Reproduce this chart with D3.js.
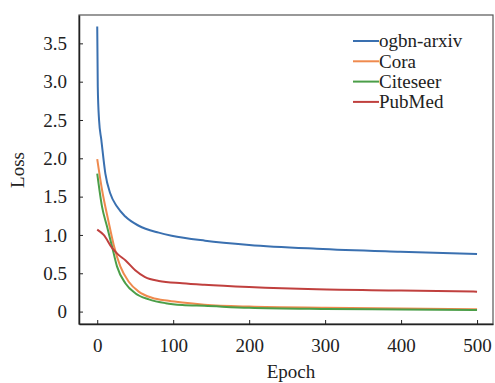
<!DOCTYPE html>
<html><head><meta charset="utf-8">
<script src="https://cdn.jsdelivr.net/npm/d3@7"></script>
<style>body{margin:0;background:#fff}svg text{font-family:"Liberation Serif","Times New Roman",serif;fill:#222}</style>
</head><body><svg id="c" width="495" height="383"></svg>
<script>
const seriesNames = ["ogbn-arxiv","Cora","Citeseer","PubMed"];
const seriesColors = ["#3a70b0","#ef8a4e","#4b9e48","#c0403e"];
const arxivEpochs = [0,0.7,2.4,5.4,10.7,17.2,26,37,54.6,81,98,142,200,289,399,500];
const arxivLoss   = [3.72,2.94,2.50,2.24,1.80,1.54,1.37,1.24,1.12,1.03,0.99,0.925,0.87,0.82,0.78,0.75];
const coraEpochs = [0,6.3,15,21.7,30.4,41.5,54.6,72,94,112,141,200,300,400,500];
const coraLoss   = [1.99,1.59,1.17,0.87,0.59,0.39,0.26,0.18,0.14,0.117,0.09,0.065,0.05,0.04,0.03];
const citeEpochs = [0,6.3,12.9,19.5,26,37,50,68,90,112,141,200,300,400,500];
const citeLoss   = [1.80,1.37,1.11,0.85,0.59,0.37,0.24,0.16,0.11,0.086,0.075,0.05,0.035,0.028,0.02];
const pubEpochs = [0,8.5,19.5,28,37,50,63,81,112,141,200,289,400,500];
const pubLoss   = [1.07,1.00,0.83,0.74,0.67,0.54,0.45,0.40,0.37,0.35,0.32,0.29,0.275,0.26];
const xTicks = [0,100,200,300,400,500];
const yTicks = [0,0.5,1.0,1.5,2.0,2.5,3.0,3.5];
const yTickLabels = ["0","0.5","1.0","1.5","2.0","2.5","3.0","3.5"];

const svg = d3.select("#c");
const L=79, R=493, T=15, B=324;
const x = d3.scaleLinear().domain([-24,521]).range([L,R]);
const y = d3.scaleLinear().domain([-0.162,3.87]).range([B,T]);
const serif = "'Liberation Serif','Times New Roman',serif";
const fs = 19;

svg.append("rect").attr("x",L).attr("y",T).attr("width",R-L).attr("height",B-T)
  .attr("fill","none").attr("stroke","#555").attr("stroke-width",1.2);

const xa = svg.append("g").attr("transform",`translate(0,${B})`)
  .call(d3.axisBottom(x).tickValues(xTicks).tickSizeInner(-4).tickSizeOuter(0).tickPadding(12).tickFormat(d3.format("d")));
const ya = svg.append("g").attr("transform",`translate(${L},0)`)
  .call(d3.axisLeft(y).tickValues(yTicks).tickSizeInner(-4).tickSizeOuter(0).tickPadding(12).tickFormat((d,i)=>yTickLabels[i]));
[xa,ya].forEach(a=>{a.attr("font-family",serif);
  a.select(".domain").attr("stroke","#222").attr("stroke-width",1.5);
  a.selectAll(".tick line").attr("stroke","#222");
  a.selectAll("text").attr("font-size",fs).attr("font-family",serif).attr("fill","#222");});
xa.selectAll("text").attr("dy","0.85em");

svg.append("text").attr("x",(L+R)/2+5).attr("y",378).attr("text-anchor","middle").attr("font-size",fs).attr("font-family",serif).text("Epoch");
svg.append("text").attr("transform","translate(24,170) rotate(-90)").attr("text-anchor","middle").attr("font-size",fs).attr("font-family",serif).text("Loss");

const data = [[arxivEpochs,arxivLoss],[coraEpochs,coraLoss],[citeEpochs,citeLoss],[pubEpochs,pubLoss]];
const line = d3.line().x(d=>x(d[0])).y(d=>y(d[1])).curve(d3.curveMonotoneX);
data.forEach((s,i)=>{
  const pts = s[0].map((e,j)=>[e,s[1][j]]);
  svg.append("path").datum(pts).attr("d",line).attr("fill","none")
    .attr("stroke",seriesColors[i]).attr("stroke-width",2);
});

const lg = svg.append("g");
seriesNames.forEach((n,i)=>{
  const yy = 41 + i*20.3;
  lg.append("line").attr("x1",353).attr("x2",379).attr("y1",yy).attr("y2",yy).attr("stroke",seriesColors[i]).attr("stroke-width",2);
  lg.append("text").attr("x",379).attr("y",yy).attr("dy","0.33em").attr("font-size",fs).attr("font-family",serif).text(n);
});
</script></body></html>
